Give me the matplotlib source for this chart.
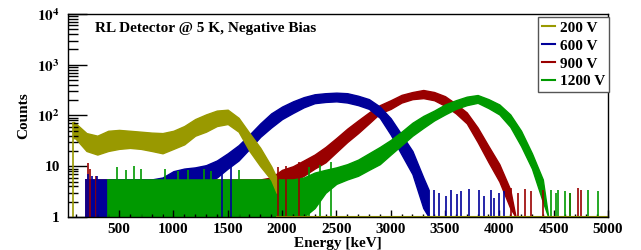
import numpy as np
import matplotlib
matplotlib.use("Agg")
import matplotlib.pyplot as plt
from matplotlib.ticker import FixedLocator, LogLocator, NullFormatter, MultipleLocator

plt.rcParams["font.family"] = ["Liberation Serif", "DejaVu Serif"]
plt.rcParams["font.weight"] = "bold"
plt.rcParams["mathtext.fontset"] = "stix"

# ---- spectra: band envelope (upper / lower counts) ----
E200 = [80, 100, 200, 300, 400, 500, 600, 700, 800, 900, 1000, 1100, 1200, 1300,
        1400, 1500, 1600, 1700, 1800, 1900, 1950]
U200 = [75, 70, 45, 40, 50, 52, 50, 48, 46, 45, 50, 62, 85, 105, 125, 130, 90, 45, 23, 10, 6]
L200 = [36, 35, 20, 17, 20, 22, 23, 22, 20, 18, 22, 27, 40, 48, 62, 68, 48, 20, 10, 5.4, 3]

E600 = [200, 300, 400, 500, 600, 700, 800, 900, 1000, 1100, 1200, 1300, 1400, 1500,
        1600, 1700, 1800, 1900, 2000, 2100, 2200, 2300, 2400, 2500, 2600, 2700, 2800,
        2900, 3000, 3100, 3200, 3300, 3350]
U600 = [5.5, 5.5, 5.5, 5.5, 5.5, 5.5, 5.5, 6, 8, 9, 9.5, 10.5, 13, 18, 26, 42, 70, 110,
        150, 190, 230, 262, 275, 282, 275, 245, 210, 150, 88, 42, 20, 6, 3.4]
L600 = [1, 1, 1, 1, 1, 1, 1, 1, 2, 3, 4, 5, 6, 9, 13, 22, 38, 58, 85, 112, 145, 175,
        185, 190, 180, 160, 135, 90, 42, 17, 7, 1.5, 1]

E900 = [200, 400, 600, 800, 1000, 1200, 1400, 1600, 1800, 1900, 2000, 2100, 2200, 2300,
        2400, 2500, 2600, 2700, 2800, 2900, 3000, 3100, 3200, 3300, 3400, 3500, 3600,
        3700, 3800, 3900, 4000, 4100, 4150]
U900 = [5.5, 5.5, 5.5, 5.5, 5.5, 5.5, 5.5, 5.5, 5.5, 6, 8.5, 10, 13, 17, 24, 36, 55, 80,
        115, 160, 200, 255, 290, 318, 290, 240, 170, 115, 58, 25, 11, 3.5, 1]
L900 = [1, 1, 1, 1, 1, 1, 1, 1, 1, 1, 3, 5, 6.5, 9, 12, 19, 30, 45, 70, 110, 135, 180,
        210, 220, 200, 155, 110, 70, 30, 12, 5, 1.5, 1]

E1200 = [400, 600, 800, 1000, 1200, 1400, 1600, 1800, 2000, 2100, 2200, 2300, 2400, 2500,
         2600, 2700, 2800, 2900, 3000, 3100, 3200, 3300, 3400, 3500, 3600, 3700, 3800,
         3900, 4000, 4100, 4200, 4300, 4400, 4450]
U1200 = [5.5, 5.5, 5.5, 5.5, 5.5, 5.5, 5.5, 5.5, 5.5, 5.5, 6, 7.5, 8.5, 9.5, 11, 13.5, 18,
         24, 33, 48, 72, 98, 125, 165, 200, 235, 253, 210, 165, 105, 50, 18, 5.5, 1]
L1200 = [1, 1, 1, 1, 1, 1, 1, 1, 1, 1, 1, 1.5, 3, 4.5, 5.5, 6.5, 8.5, 11, 17, 26, 40, 57,
         80, 105, 135, 160, 178, 140, 105, 60, 25, 9, 2, 1]

# isolated single-bin spikes (energy, counts)
SPK600_E = [210, 250, 300, 1450, 1530, 3397, 3443, 3507, 3553, 3608, 3644, 3718, 3809,
            3855, 3919, 3947, 3993, 4039]
SPK600_C = [7, 6.5, 6.5, 14, 16, 3.4, 3.0, 2.6, 3.4, 2.8, 3.2, 3.5, 3.4, 2.6, 3.4, 2.4, 3.0, 3.2]
SPK900_E = [210, 230, 290, 1960, 2040, 2160, 4111, 4175, 4240, 4295, 4405, 4652, 4725, 4753]
SPK900_C = [11.5, 9, 6.5, 9.5, 10, 12, 3.8, 3.0, 3.5, 3.2, 3.4, 3.0, 3.8, 3.4]
SPK1200_E = [480, 560, 640, 700, 920, 1040, 1130, 1280, 1350, 1600, 2250, 2350, 2450,
             4477, 4520, 4542, 4606, 4650, 4817, 4909]
SPK1200_C = [9.5, 8.5, 10, 9, 9, 8, 8.5, 9, 8, 8.5, 9.5, 10.5, 12, 3.4, 3.0, 3.4, 3.2, 3.0, 3.4, 3.2]

LABELS = ["200 V", "600 V", "900 V", "1200 V"]
COLORS = ["#999900", "#000099", "#990000", "#009900"]

fig = plt.figure(figsize=(6.41, 2.5), dpi=100)
ax = fig.add_axes([68 / 641, 1 - 217 / 250, 540 / 641, 203 / 250])

bands = {
    "200 V": (E200, U200, L200, None),
    "600 V": (E600, U600, L600, (SPK600_E, SPK600_C)),
    "900 V": (E900, U900, L900, (SPK900_E, SPK900_C)),
    "1200 V": (E1200, U1200, L1200, (SPK1200_E, SPK1200_C)),
}
colmap = dict(zip(LABELS, COLORS))

# stacking as in the original: red under blue under green, olive on top
for lab in ["900 V", "600 V", "1200 V", "200 V"]:
    E, U, L, spk = bands[lab]
    col = colmap[lab]
    ax.fill_between(E, L, U, color=col, lw=1.0, edgecolor=col)
    ax.vlines(E[0], 1, U[0], color=col, lw=1.2)
    if spk:
        ax.vlines(spk[0], 1, spk[1], color=col, lw=1.2)

# 200 V empty bins sit on the axis floor
ax.plot([E200[-1], 5000], [1.02, 1.02], color=COLORS[0], lw=1.5, clip_on=False)

handles = [ax.plot([], [], color=c, lw=1.5, label=l)[0] for l, c in zip(LABELS, COLORS)]

ax.set_yscale("log")
ax.set_ylim(1, 1e4)

ax.yaxis.set_major_locator(FixedLocator([1, 10, 100, 1000, 10000]))
ax.set_yticklabels(["1", "10", r"$\mathbf{10^{2}}$", r"$\mathbf{10^{3}}$", r"$\mathbf{10^{4}}$"])
ax.yaxis.set_minor_locator(LogLocator(base=10, subs=np.arange(2, 10)))
ax.yaxis.set_minor_formatter(NullFormatter())
ax.set_xticks([500, 1000, 1500, 2000, 2500, 3000, 3500, 4000, 4500, 5000])
ax.xaxis.set_minor_locator(MultipleLocator(100))
ax.set_xlim(30, 5000)

ax.tick_params(axis="y", which="major", direction="in", length=14, width=1, labelsize=11, pad=6)
ax.tick_params(axis="y", which="minor", direction="in", length=7, width=1)
ax.tick_params(axis="x", which="major", direction="in", length=5, width=1, labelsize=11, pad=4)
ax.tick_params(axis="x", which="minor", direction="in", length=2.5, width=1)
for lbl in ax.get_xticklabels() + ax.get_yticklabels():
    lbl.set_fontweight("bold")
for sp in ax.spines.values():
    sp.set_linewidth(1)

ax.set_xlabel("Energy [keV]", fontsize=11, fontweight="bold", labelpad=1)
ax.set_ylabel("Counts", fontsize=11, fontweight="bold", labelpad=5)

ax.text(0.05, 0.93, "RL Detector @ 5 K, Negative Bias", transform=ax.transAxes,
        fontsize=11, fontweight="bold", va="center", ha="left")

leg = ax.legend(handles=handles, loc="upper right", bbox_to_anchor=(1.002, 0.985),
                borderaxespad=0, fancybox=False, framealpha=1, edgecolor="#555555",
                handlelength=0.9, handletextpad=0.3, labelspacing=0.28, borderpad=0.25,
                prop={"weight": "bold", "size": 11})
leg.get_frame().set_linewidth(1)

fig.savefig("out.png", dpi=100)
